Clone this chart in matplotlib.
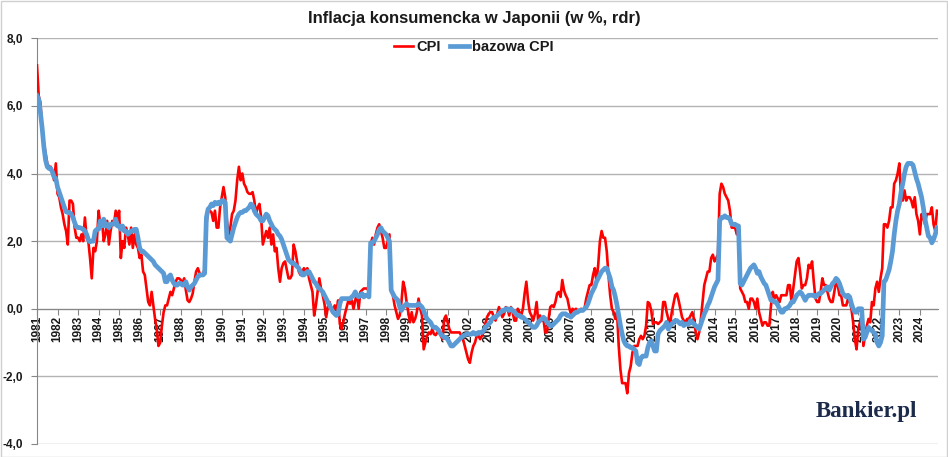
import matplotlib
matplotlib.use("Agg")
import matplotlib.pyplot as plt
from matplotlib.patches import Rectangle
from matplotlib.ticker import FuncFormatter

# ---- data: monthly y/y inflation in Japan, Jan 1981 - Nov 2024 ----
years = list(range(1981, 2025))

cpi = [
    7.2, 6.3, 6.1, 5.3, 4.9, 4.6, 4.3, 4.2, 4.2, 4.0, 3.8, 4.3,          # 1981
    3.4, 3.3, 3.0, 2.8, 2.5, 2.3, 1.9, 3.2, 3.2, 3.1, 2.4, 2.1,          # 1982
    2.1, 2.0, 2.2, 2.0, 2.7, 2.1, 2.0, 1.5, 0.9, 1.8, 1.7, 2.0,          # 1983
    2.9, 2.5, 2.6, 2.0, 2.2, 2.6, 1.9, 2.3, 2.6, 2.5, 2.9, 2.6,          # 1984
    2.9, 1.5, 2.0, 1.8, 2.4, 2.2, 1.9, 2.4, 1.8, 2.2, 1.9, 1.8,          # 1985
    1.5, 1.6, 1.1, 1.0, 0.6, 0.2, 0.1, 0.5, 0.1, -0.3, -0.6, -1.1,      # 1986
    -1.0, -0.5, -0.1, 0.1, 0.1, 0.3, 0.5, 0.4, 0.6, 0.8, 0.9, 0.9,      # 1987
    0.85, 0.75, 0.9, 0.55, 0.25, 0.2, 0.3, 0.45, 0.8, 1.1, 1.2, 1.05,   # 1988
    1.0, 1.0, 1.2, 2.5, 2.9, 2.9, 2.85, 2.6, 2.9, 2.4, 2.4, 3.0,        # 1989
    3.3, 3.6, 3.3, 2.6, 2.2, 2.4, 2.8, 2.9, 3.2, 3.8, 4.2, 3.8,          # 1990
    4.0, 3.7, 3.6, 3.45, 3.4, 3.4, 3.45, 3.2, 2.8, 3.0, 3.1, 2.7,       # 1991
    1.9, 2.1, 2.3, 2.1, 2.4, 1.9, 2.2, 1.7, 1.8, 1.2, 0.8, 1.2,          # 1992
    1.35, 1.4, 1.15, 0.9, 0.9, 1.0, 1.9, 1.7, 1.4, 1.1, 1.0, 1.1,       # 1993
    1.2, 1.1, 1.2, 0.9, 0.7, 0.5, -0.2, 0.1, 0.5, 0.9, 0.6, 0.4,        # 1994
    0.15, -0.25, 0.05, 0.2, 0.0, -0.05, 0.1, -0.05, 0.25, -0.45, -0.6, -0.4,  # 1995
    -0.15, 0.05, 0.25, 0.15, 0.25, 0.0, 0.25, 0.45, 0.0, 0.5, 0.55, 0.6,     # 1996
    0.6, 0.6, 0.5, 1.9, 2.1, 1.9, 2.2, 2.4, 2.5, 2.3, 2.1, 1.8,          # 1997
    1.8, 2.0, 2.2, 0.5, 0.4, 0.1, -0.1, -0.3, -0.2, 0.2, 0.8, 0.6,      # 1998
    0.2, -0.1, -0.4, -0.1, -0.4, -0.3, -0.1, 0.3, 0.0, -0.2, -1.2, -1.0,     # 1999
    -0.8, -0.7, -0.75, -0.6, -0.75, -0.78, -0.7, -0.7, -0.8, -0.9, -0.3, -0.2,  # 2000
    -0.4, -0.6, -0.7, -0.7, -0.7, -0.7, -0.7, -0.7, -0.8, -0.9, -1.1, -1.3,   # 2001
    -1.5, -1.6, -1.3, -1.1, -1.0, -0.8, -0.8, -0.9, -0.8, -0.7, -0.45, -0.25, # 2002
    -0.15, -0.1, -0.1, -0.25, -0.35, -0.15, 0.05, -0.1, -0.25, -0.15, 0.05, 0.0,  # 2003
    -0.2, 0.05, -0.1, -0.35, -0.35, 0.0, -0.1, -0.2, 0.0, 0.45, 0.8, 0.25,   # 2004
    -0.1, -0.2, -0.35, -0.15, 0.2, -0.4, -0.2, -0.35, -0.3, -0.7, -0.7, -0.3, # 2005
    0.05, 0.1, 0.05, 0.2, 0.45, 0.5, 0.35, 0.85, 0.55, 0.4, 0.3, 0.05,   # 2006
    -0.15, 0.0, -0.05, 0.0, -0.05, -0.05, 0.0, -0.05, 0.0, 0.3, 0.5, 0.7,    # 2007
    0.7, 1.0, 1.2, 0.8, 1.3, 2.0, 2.3, 2.1, 2.1, 1.7, 1.0, 0.4,          # 2008
    0.0, -0.1, -0.3, -0.1, -1.1, -1.8, -2.2, -2.2, -2.2, -2.5, -1.9, -1.7,   # 2009
    -1.3, -1.1, -1.1, -1.1, -0.9, -0.8, -0.9, -0.8, -0.5, 0.2, 0.15, -0.05,  # 2010
    -0.45, -0.4, -0.4, -0.45, -0.4, -0.35, 0.2, 0.2, -0.1, -0.3, -0.45, -0.1, # 2011
    0.15, 0.4, 0.45, 0.25, 0.0, -0.25, -0.35, -0.4, -0.3, -0.3, -0.2, -0.1,  # 2012
    -0.3, -0.7, -0.9, -0.7, -0.3, 0.2, 0.7, 0.9, 1.1, 1.1, 1.5, 1.6,    # 2013
    1.4, 1.5, 1.6, 3.4, 3.7, 3.6, 3.4, 3.3, 3.2, 2.9, 2.4, 2.4,          # 2014
    2.4, 2.2, 2.3, 0.6, 0.5, 0.4, 0.2, 0.2, 0.0, 0.3, 0.3, 0.2,          # 2015
    0.0, 0.3, -0.1, -0.3, -0.5, -0.4, -0.4, -0.5, -0.5, 0.1, 0.5, 0.3,  # 2016
    0.4, 0.3, 0.2, 0.4, 0.4, 0.4, 0.4, 0.7, 0.7, 0.2, 0.6, 1.0,          # 2017
    1.4, 1.5, 1.1, 0.6, 0.7, 0.7, 0.9, 1.3, 1.2, 1.4, 0.8, 0.3,          # 2018
    0.2, 0.2, 0.5, 0.9, 0.7, 0.7, 0.5, 0.3, 0.2, 0.2, 0.5, 0.8,          # 2019
    0.7, 0.4, 0.4, 0.1, 0.1, 0.1, 0.3, 0.2, 0.0, -0.4, -0.9, -1.2,      # 2020
    -0.6, -0.4, -0.2, -1.1, -0.8, -0.5, -0.3, -0.4, 0.2, 0.1, 0.6, 0.8, # 2021
    0.5, 0.9, 1.2, 2.5, 2.5, 2.4, 2.6, 3.0, 3.0, 3.7, 3.8, 4.0,          # 2022
    4.3, 3.3, 3.2, 3.5, 3.2, 3.3, 3.3, 3.2, 3.0, 3.3, 2.8, 2.6,          # 2023
    2.2, 2.8, 2.7, 2.5, 2.8, 2.8, 2.8, 3.0, 2.5, 2.3, 2.9,               # 2024
]

core_cpi = [
    6.3, 6.2, 5.8, 5.35, 4.8, 4.4, 4.2, 4.15, 4.15, 4.05, 3.9, 3.85,    # 1981
    3.6, 3.45, 3.3, 3.15, 3.0, 2.87, 2.85, 2.85, 2.8, 2.7, 2.55, 2.42,  # 1982
    2.4, 2.4, 2.38, 2.35, 2.3, 2.2, 2.05, 1.98, 2.0, 2.0, 2.3, 2.35,    # 1983
    2.35, 2.6, 2.45, 2.65, 2.45, 2.5, 2.4, 2.5, 2.5, 2.5, 2.65, 2.45,   # 1984
    2.45, 2.35, 2.45, 2.3, 2.3, 2.2, 2.25, 2.3, 2.3, 2.35, 2.35, 2.1,   # 1985
    1.8, 1.7, 1.7, 1.65, 1.6, 1.55, 1.5, 1.45, 1.4, 1.3, 1.25, 1.2,     # 1986
    1.15, 1.1, 1.05, 0.8, 0.8, 0.95, 1.0, 0.85, 0.75, 0.7, 0.7, 0.75,   # 1987
    0.75, 0.7, 0.7, 0.8, 0.65, 0.55, 0.65, 0.7, 0.75, 0.85, 0.95, 1.0,  # 1988
    1.0, 1.0, 1.05, 2.7, 2.95, 3.0, 3.1, 3.05, 3.15, 3.1, 3.15, 3.1,    # 1989
    3.2, 3.2, 3.15, 2.1, 2.05, 2.0, 2.2, 2.4, 2.55, 2.7, 2.8, 2.85,     # 1990
    2.85, 2.9, 2.9, 2.95, 3.0, 3.1, 3.05, 2.9, 2.8, 2.75, 2.7, 2.6,     # 1991
    2.6, 2.7, 2.8, 2.75, 2.6, 2.5, 2.4, 2.35, 2.3, 2.2, 2.15, 2.05,     # 1992
    1.9, 1.75, 1.6, 1.45, 1.4, 1.35, 1.35, 1.3, 1.25, 1.2, 1.1, 1.0,    # 1993
    1.0, 1.05, 1.1, 1.1, 1.0, 0.9, 0.8, 0.75, 0.65, 0.6, 0.55, 0.5,     # 1994
    0.4, 0.3, 0.2, 0.1, 0.0, -0.1, -0.15, -0.2, -0.15, 0.15, 0.3, 0.3,  # 1995
    0.3, 0.3, 0.3, 0.3, 0.35, 0.4, 0.5, 0.4, 0.35, 0.4, 0.45, 0.35,     # 1996
    0.4, 0.4, 0.35, 1.95, 1.95, 2.0, 2.1, 2.2, 2.35, 2.4, 2.3, 2.25,    # 1997
    2.2, 2.1, 2.0, 0.55, 0.45, 0.35, 0.3, 0.25, 0.05, -0.05, 0.05, 0.1, # 1998
    0.15, 0.1, 0.1, 0.1, 0.1, 0.1, 0.1, 0.15, 0.1, 0.05, -0.05, -0.2,   # 1999
    -0.3, -0.35, -0.4, -0.5, -0.55, -0.55, -0.6, -0.65, -0.75, -0.8, -0.85, -0.85,  # 2000
    -0.9, -1.0, -1.1, -1.1, -1.05, -1.0, -0.95, -0.9, -0.85, -0.8, -0.78, -0.75,    # 2001
    -0.75, -0.75, -0.75, -0.7, -0.75, -0.75, -0.7, -0.7, -0.7, -0.65, -0.55, -0.5,  # 2002
    -0.45, -0.4, -0.3, -0.25, -0.25, -0.2, -0.15, -0.1, -0.05, -0.05, 0.0, 0.0,     # 2003
    -0.05, 0.0, -0.05, -0.1, -0.15, -0.2, -0.2, -0.25, -0.25, -0.3, -0.35, -0.4,    # 2004
    -0.45, -0.5, -0.55, -0.55, -0.5, -0.4, -0.35, -0.3, -0.25, -0.3, -0.4, -0.45,   # 2005
    -0.5, -0.5, -0.45, -0.4, -0.35, -0.3, -0.2, -0.15, -0.15, -0.15, -0.2, -0.2,    # 2006
    -0.25, -0.2, -0.15, -0.1, -0.1, -0.05, -0.05, -0.05, 0.0, 0.05, 0.15, 0.3,      # 2007
    0.45, 0.55, 0.65, 0.8, 0.9, 1.0, 1.1, 1.15, 1.2, 1.2, 1.05, 0.9,    # 2008
    0.65, 0.55, 0.35, 0.1, -0.2, -0.5, -0.75, -0.95, -1.05, -1.1, -1.1, -1.15,      # 2009
    -1.15, -1.2, -1.25, -1.6, -1.65, -1.45, -1.4, -1.4, -1.4, -1.15, -1.0, -0.95,   # 2010
    -1.1, -1.25, -1.25, -0.75, -0.65, -0.6, -0.55, -0.5, -0.4, -0.6, -0.5, -0.45,   # 2011
    -0.4, -0.35, -0.35, -0.4, -0.45, -0.4, -0.5, -0.45, -0.45, -0.45, -0.35, -0.4,  # 2012
    -0.45, -0.5, -0.55, -0.6, -0.45, -0.3, -0.15, -0.05, 0.1, 0.2, 0.35, 0.5,       # 2013
    0.65, 0.75, 0.85, 2.6, 2.7, 2.7, 2.75, 2.7, 2.7, 2.65, 2.5, 2.5,    # 2014
    2.5, 2.45, 2.45, 0.75, 0.7, 0.8, 0.9, 1.0, 1.1, 1.2, 1.25, 1.3,     # 2015
    1.2, 1.05, 1.1, 0.95, 0.85, 0.75, 0.7, 0.55, 0.4, 0.25, 0.25, 0.2,  # 2016
    0.2, 0.1, 0.0, -0.1, -0.1, 0.0, 0.0, 0.05, 0.1, 0.2, 0.2, 0.3,      # 2017
    0.4, 0.45, 0.5, 0.45, 0.35, 0.25, 0.35, 0.4, 0.4, 0.4, 0.4, 0.35,   # 2018
    0.4, 0.45, 0.45, 0.5, 0.55, 0.6, 0.65, 0.55, 0.65, 0.75, 0.8, 0.9,  # 2019
    0.85, 0.75, 0.6, 0.45, 0.4, 0.35, 0.4, 0.35, 0.15, 0.0, -0.1, -0.1, # 2020
    0.0, 0.0, 0.0, -0.9, -0.85, -0.7, -0.55, -0.6, -0.65, -0.7, -0.75, -1.0,        # 2021
    -1.1, -1.0, -0.8, 0.8, 0.85, 1.0, 1.15, 1.4, 1.7, 2.2, 2.6, 2.9,    # 2022
    3.1, 3.45, 3.7, 4.0, 4.2, 4.3, 4.3, 4.3, 4.25, 4.05, 3.85, 3.7,     # 2023
    3.5, 3.3, 3.0, 2.65, 2.4, 2.15, 2.1, 1.95, 2.05, 2.2, 2.4,          # 2024
]

y_ticks = [-4, -2, 0, 2, 4, 6, 8]
title = "Inflacja konsumencka w Japonii (w %, rdr)"
series_names = ["CPI", "bazowa CPI"]

# ---- figure ----
W, H = 948, 457
fig = plt.figure(figsize=(W / 100, H / 100), dpi=100)
plt.rcParams['font.family'] = ['Liberation Sans', 'DejaVu Sans']

left, right, top, bottom = 37, 938, 38.3, 444
ax = fig.add_axes([left / W, 1 - bottom / H, (right - left) / W, (bottom - top) / H])

x = list(range(len(cpi)))
ax.plot(x, cpi, color='#FF0000', lw=1.9, zorder=3, solid_joinstyle='round',
        label=series_names[0])
ax.plot(list(range(len(core_cpi))), core_cpi, color='#5B9BD5', lw=3.4, zorder=4,
        solid_joinstyle='round', label=series_names[1])

ax.set_xlim(0, len(cpi) - 0.4)
ax.set_ylim(-4, 8)

for s in ['top', 'right']:
    ax.spines[s].set_visible(False)
ax.spines['left'].set_color('#868686')
ax.spines['bottom'].set_color('#868686')
ax.spines['bottom'].set_position(('data', 0))

ax.set_yticks(y_ticks)
ax.yaxis.set_major_formatter(FuncFormatter(lambda v, p: f"{v:.1f}".replace('.', ',')))
ax.yaxis.grid(True, color='#b3b3b3', lw=1.0)
ax.set_axisbelow(True)

ax.set_xticks([12 * i for i in range(len(years))])
ax.set_xticklabels([str(y) for y in years], rotation=90, fontsize=8.5, fontweight='bold',
                   color='#1a1a1a')
ax.tick_params(axis='x', direction='out', length=4, color='#868686', pad=1)
ax.tick_params(axis='y', direction='out', length=4, color='#868686', pad=6,
               labelsize=8.5, labelcolor='#1a1a1a')
for lab in ax.get_yticklabels():
    lab.set_fontweight('bold')

fig.text(0.5, 1 - 18 / H, title, ha='center', va='center', fontsize=12,
         fontweight='bold', color='#1a1a1a')

leg = fig.legend(loc='center', bbox_to_anchor=(0.5, 1 - 47 / H), ncol=2, frameon=False,
                 handlelength=1.3, handletextpad=0.25, columnspacing=0.6,
                 prop={'weight': 'bold', 'size': 10.5})
for t in leg.get_texts():
    t.set_color('#1a1a1a')

fig.text(866 / W, 1 - 411 / H, "Bankier.pl", ha='center', va='center',
         fontsize=16.5, fontweight='bold', family='Liberation Serif', color='#1c2b4a')

fig.patches.append(Rectangle((0.5 / W, 0.5 / H), 1 - 1.5 / W, 1 - 1.5 / H,
                             transform=fig.transFigure, fill=False,
                             edgecolor='#d0d0d0', lw=1))

fig.savefig("out.png", dpi=100)
